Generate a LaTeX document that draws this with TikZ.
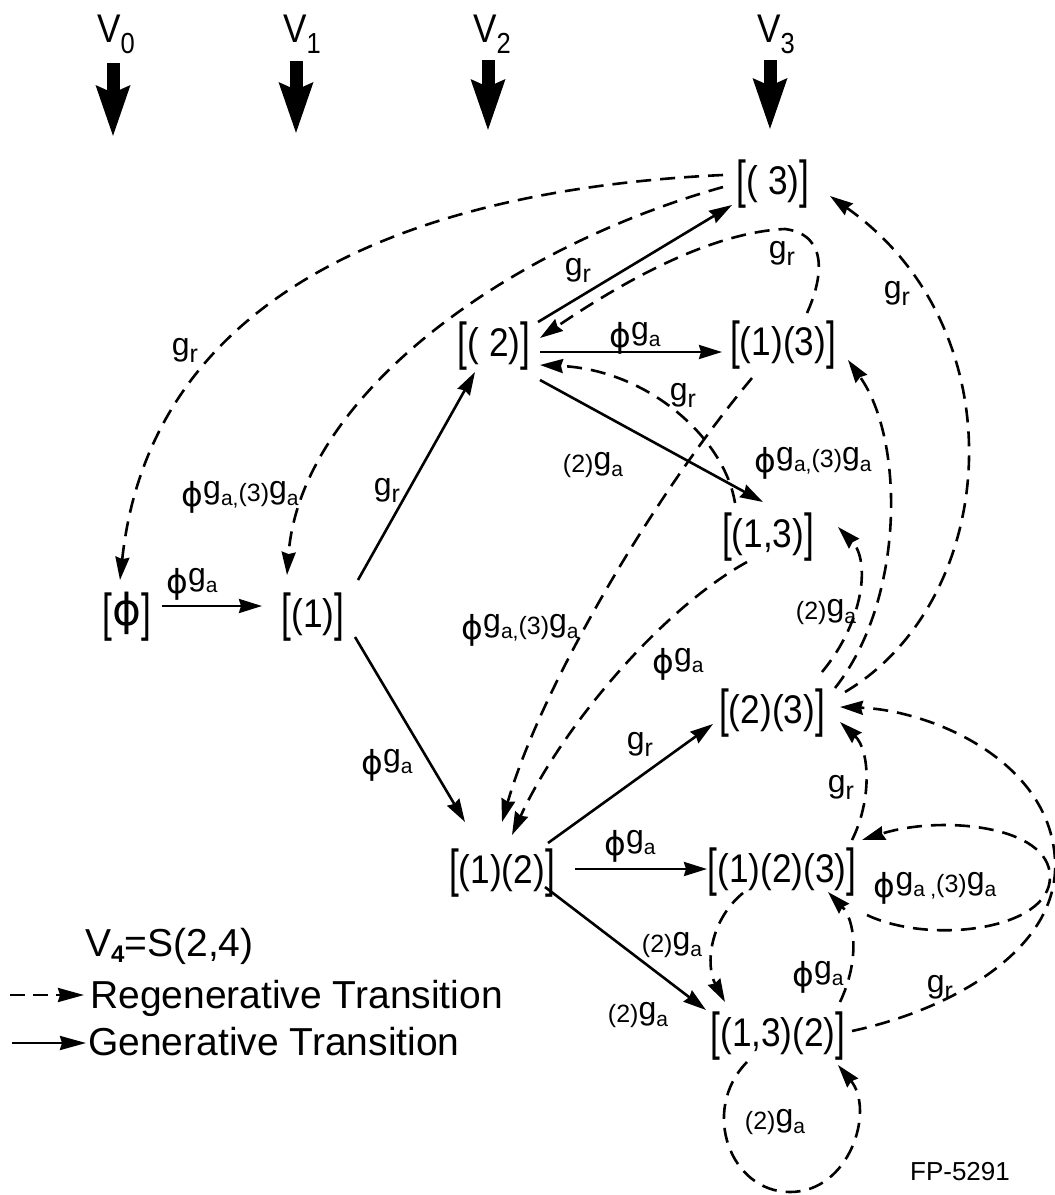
\documentclass[tikz,border=0pt]{standalone}
\usepackage{fontspec}
\usepackage{graphicx}
\setmainfont{Liberation Sans}
\newfontfamily\nodef[FakeStretch=0.88]{Liberation Sans}
\newfontfamily\phif{DejaVu Sans}
\usetikzlibrary{arrows.meta,calc}
\newcommand\Sb[2][21]{\raisebox{-7pt}{\fontsize{#1}{#1}\selectfont #2}}
\newcommand\Pf[1]{\raisebox{-3pt}{\fontsize{25}{25}\selectfont #1}}
\newcommand\Ph{\raisebox{-8pt}{\phif\fontsize{33}{33}\selectfont ϕ}}
\newcommand\Gr{g\Sb[25]{r}}
\newcommand\PGa{\Ph g\Sb{a}}
\newcommand\TGa{\Pf{(2)}g\Sb{a}}
\newcommand\Lng{\Ph g\Sb{a,}\Pf{(3)}g\Sb{a}}
\newcommand\Lb{\raisebox{-3pt}{\scalebox{1}[1.3]{[}}}
\newcommand\Rb{\raisebox{-3pt}{\scalebox{1}[1.3]{]}}}
\newcommand\Vs[1]{\raisebox{-11pt}{\fontsize{29}{29}\selectfont #1}}
\begin{document}
\begin{tikzpicture}[x=1pt,y=-1pt,
 state/.style={inner sep=0pt, anchor=base, font=\nodef\fontsize{40}{40}\selectfont},
 lab/.style={inner sep=0pt, font=\fontsize{32}{32}\selectfont},
 genarr/.style={line width=2.6pt, -{Stealth[length=23pt,width=14pt,inset=2pt]}},
 regarr/.style={genarr, dash pattern=on 15pt off 9pt},
 bigarr/.style={line width=13pt, -{Stealth[length=50pt,width=32pt,inset=6pt]}},
 vlab/.style={inner sep=0pt, anchor=base, font=\nodef\fontsize{40}{40}\selectfont},
 legtext/.style={inner sep=0pt, anchor=base west, font=\fontsize{39}{39}\selectfont}]
\fill[white] (0,0) rectangle (1055,1195);
\useasboundingbox (0,0) rectangle (1055,1195);

% column headers
\node[vlab] (v0) at (116,42) {V\Vs{0}};
\node[vlab] (v1) at (302,42) {V\Vs{1}};
\node[vlab] (v2) at (492,42) {V\Vs{2}};
\node[vlab] (v3) at (776,42) {V\Vs{3}};
\coordinate (a0s) at (113,63); \coordinate (a0e) at (113,137);
\coordinate (a1s) at (296,61); \coordinate (a1e) at (296,134);
\coordinate (a2s) at (488,60); \coordinate (a2e) at (488,131);
\coordinate (a3s) at (770,60); \coordinate (a3e) at (770,130);
\draw[bigarr] (a0s) -- (a0e);
\draw[bigarr] (a1s) -- (a1e);
\draw[bigarr] (a2s) -- (a2e);
\draw[bigarr] (a3s) -- (a3e);

% states
\node[state] (phi) at (127,627) {\Lb{\phif\fontsize{44}{44}\selectfont\raisebox{2pt}{ϕ}}\Rb};
\node[state] (n1) at (313,627) {\Lb(1)\Rb};
\node[state] (n2) at (494,356) {\Lb( 2)\Rb};
\node[state] (n3) at (773,194) {\Lb( 3)\Rb};
\node[state] (n13) at (783,355) {\Lb(1)(3)\Rb};
\node[state] (n1c3) at (768,547) {\Lb(1,3)\Rb};
\node[state] (n23) at (772,723) {\Lb(2)(3)\Rb};
\node[state] (n12) at (502,883) {\Lb(1)(2)\Rb};
\node[state] (n123) at (782,882) {\Lb(1)(2)(3)\Rb};
\node[state] (n132) at (778,1046) {\Lb(1,3)(2)\Rb};

% generative transitions
\draw[genarr] ($(phi.base)+(35,-21)$) -- ($(n1.base)+(-51,-21)$);
\draw[genarr] ($(n1.base)+(45,-47)$) -- ($(n2.base)+(-19,16)$);
\draw[genarr] ($(n1.base)+(42,10)$) -- ($(n12.base)+(-37,-61)$);
\draw[genarr] ($(n2.base)+(44,-34)$) -- ($(n3.base)+(-41,11)$);
\draw[genarr] ($(n2.base)+(46,-4)$) -- ($(n13.base)+(-61,-3)$);
\draw[genarr] ($(n2.base)+(46,24)$) -- ($(n1c3.base)+(-5,-45)$);
\draw[genarr] ($(n12.base)+(46,-40)$) -- ($(n23.base)+(-59,1)$);
\draw[genarr] ($(n12.base)+(73,-14)$) -- ($(n123.base)+(-75,-13)$);
\draw[genarr] ($(n12.base)+(43,4)$) -- ($(n132.base)+(-72,-36)$);

% regenerative transitions
\draw[regarr] ($(n3.base)+(-50,-19)$) .. controls (400,190) and (150,300) .. ($(phi.base)+(-7,-47)$);
\draw[regarr] ($(n3.base)+(-50,-7)$) .. controls (500,250) and (300,400) .. ($(n1.base)+(-26,-52)$);
\draw[regarr] ($(n13.base)+(24,-42)$) .. controls (822,280) and (830,235) .. (785,229) .. controls (720,232) and (640,270) .. ($(n2.base)+(46,-18)$);
\draw[regarr] ($(n1c3.base)+(-33,-44)$) .. controls (725,440) and (650,370) .. ($(n2.base)+(46,9)$);
\draw[regarr] ($(n13.base)+(-31,23)$) .. controls (650,500) and (540,690) .. ($(n12.base)+(0,-61)$);
\draw[regarr] ($(n1c3.base)+(-21,15)$) .. controls (660,610) and (560,730) .. ($(n12.base)+(10,-48)$);
\draw[regarr] ($(n23.base)+(73,-31)$) .. controls (1000,600) and (1020,330) .. ($(n3.base)+(57,2)$);
\draw[regarr] ($(n23.base)+(63,-35)$) .. controls (905,600) and (905,440) .. ($(n13.base)+(65,5)$);
\draw[regarr] ($(n23.base)+(50,-51)$) .. controls (865,620) and (870,560) .. ($(n1c3.base)+(70,-20)$);
\draw[regarr] ($(n123.base)+(70,-42)$) .. controls (872,800) and (870,750) .. ($(n23.base)+(68,-1)$);
\draw[regarr] ($(n123.base)+(85,33)$) .. controls (930,945) and (1050,930) .. (1050,877) .. controls (1050,825) and (940,815) .. ($(n123.base)+(80,-42)$);
\draw[regarr] ($(n132.base)+(74,-15)$) .. controls (950,1010) and (1060,950) .. (1055,860) .. controls (1050,760) and (930,710) .. ($(n23.base)+(68,-16)$);
\draw[regarr] ($(n123.base)+(-39,11)$) .. controls (710,920) and (705,965) .. ($(n132.base)+(-53,-44)$);
\draw[regarr] ($(n132.base)+(62,-44)$) .. controls (860,960) and (855,920) .. ($(n123.base)+(46,10)$);
\draw[regarr] ($(n132.base)+(-31,16)$) .. controls (700,1110) and (730,1192) .. (790,1192) .. controls (850,1192) and (875,1110) .. ($(n132.base)+(60,19)$);

% labels
\node[lab] (l1) at (192,584) {\PGa};
\node[lab] (l2) at (387,490) {\Gr};
\node[lab] (l3) at (387,765) {\PGa};
\node[lab] (l4) at (578,270) {\Gr};
\node[lab] (l5) at (782,253) {\Gr};
\node[lab] (l6) at (635,338) {\PGa};
\node[lab] (l7) at (683,395) {\Gr};
\node[lab] (l8) at (593,465) {\TGa};
\node[lab] (l9) at (520,630) {\Lng};
\node[lab] (l10) at (678,664) {\PGa};
\node[lab] (l11) at (185,350) {\Gr};
\node[lab] (l12) at (240,497) {\Lng};
\node[lab] (l13) at (897,293) {\Gr};
\node[lab] (l14) at (813,463) {\Lng};
\node[lab] (l15) at (826,612) {\TGa};
\node[lab] (l16) at (640,744) {\Gr};
\node[lab] (l17) at (630,846) {\PGa};
\node[lab] (l18) at (638,1015) {\TGa};
\node[lab] (l19) at (841,787) {\Gr};
\node[lab] (l20) at (935,888) {\Ph g\Sb{a}\,\Sb{,}\Pf{(3)}g\Sb{a}};
\node[lab] (l21) at (940,987) {\Gr};
\node[lab] (l22) at (672,945) {\TGa};
\node[lab] (l23) at (818,977) {\PGa};
\node[lab] (l24) at (775,1122) {\TGa};

% legend
\node[legtext] (v4) at (85,956) {V\raisebox{-6pt}{\fontsize{24}{24}\selectfont\bfseries 4}=S(2,4)};
\coordinate (rg1) at (10,995); \coordinate (rg2) at (84,995);
\draw[regarr, dash pattern=on 15pt off 8pt, -{Stealth[length=26pt,width=14pt,inset=2pt]}] (rg1) -- (rg2);
\node[legtext] (rgt) at (90,1008) {Regenerative Transition};
\coordinate (gn1) at (12,1043); \coordinate (gn2) at (86,1043);
\draw[genarr, -{Stealth[length=26pt,width=14pt,inset=2pt]}] (gn1) -- (gn2);
\node[legtext] (gnt) at (88,1055) {Generative Transition};
\node[inner sep=0pt, font=\fontsize{26}{26}\selectfont] (fp) at (960,1172) {FP-5291};
\end{tikzpicture}
\end{document}
